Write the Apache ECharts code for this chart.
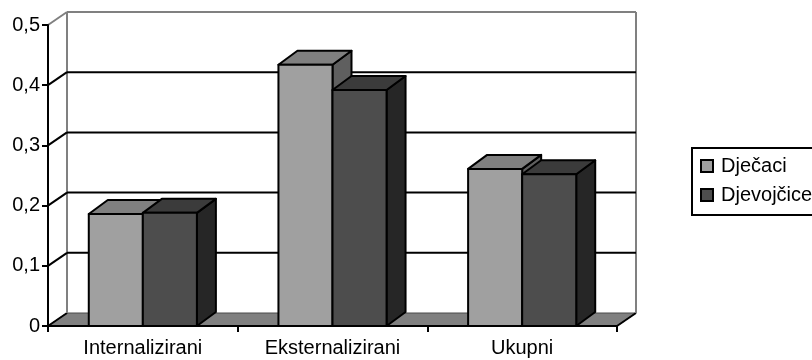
<!DOCTYPE html>
<html>
<head>
<meta charset="utf-8">
<script src="https://cdn.jsdelivr.net/npm/echarts@6/dist/echarts.min.js"></script>
<style>
html,body{margin:0;padding:0;background:#fff;}
#chart{width:812px;height:360px;}
</style>
</head>
<body>
<div id="chart"></div>
<script>
// ---- data ----
var categories = ['Internalizirani', 'Eksternalizirani', 'Ukupni'];
var seriesNames = ['Dječaci', 'Djevojčice'];
var djecaci = [0.186, 0.434, 0.261];
var djevojcice = [0.188, 0.392, 0.252];
var yTicks = [0, 0.1, 0.2, 0.3, 0.4, 0.5];
var yTickLabels = ['0', '0,1', '0,2', '0,3', '0,4', '0,5'];

// ---- style ----
var FONT = 'Liberation Sans, Arial, sans-serif';
var WALL_DX = 19, WALL_DY = -13;
var BAR_DX = 19, BAR_DY = -14;
var BAR_FRAC = 0.285;
var palettes = [
  {front: '#a0a0a0', top: '#808080', side: '#5f5f5f'},
  {front: '#4d4d4d', top: '#3b3b3b', side: '#262626'}
];

var chart = echarts.init(document.getElementById('chart'), null, {renderer: 'canvas'});

function wallRender(params, api) {
  var cs = params.coordSys;
  var v = api.value(1);
  var p = api.coord([0, v]);
  var y = p[1];
  var x0 = cs.x, x1 = cs.x + cs.width;
  var isTop = Math.abs(v - yTicks[yTicks.length - 1]) < 1e-9;
  var isZero = Math.abs(v) < 1e-9;
  var children = [];
  if (isZero) {
    // floor
    children.push({
      type: 'polygon',
      shape: {points: [[x0, y], [x1, y], [x1 + WALL_DX, y + WALL_DY], [x0 + WALL_DX, y + WALL_DY]]},
      style: {fill: '#808080', stroke: '#4a4a4a', lineWidth: 1}
    });
    children.push({
      type: 'line',
      shape: {x1: x1, y1: y, x2: x1 + WALL_DX, y2: y + WALL_DY},
      style: {stroke: '#000', lineWidth: 2}
    });
    children.push({
      type: 'line',
      shape: {x1: x0, y1: y, x2: x0 + WALL_DX, y2: y + WALL_DY},
      style: {stroke: '#000', lineWidth: 2}
    });
    // wall vertical edges
    var yt = api.coord([0, yTicks[yTicks.length - 1]])[1];
    children.push({
      type: 'line',
      shape: {x1: x0 + WALL_DX, y1: yt + WALL_DY, x2: x0 + WALL_DX, y2: y + WALL_DY},
      style: {stroke: '#808080', lineWidth: 2}
    });
    children.push({
      type: 'line',
      shape: {x1: x1 + WALL_DX, y1: yt + WALL_DY, x2: x1 + WALL_DX, y2: y + WALL_DY},
      style: {stroke: '#808080', lineWidth: 2}
    });
  } else {
    var col = isTop ? '#808080' : '#000';
    children.push({
      type: 'line',
      shape: {x1: x0 + WALL_DX, y1: y + WALL_DY, x2: x1 + WALL_DX, y2: y + WALL_DY},
      style: {stroke: col, lineWidth: 2}
    });
    children.push({
      type: 'line',
      shape: {x1: x0, y1: y, x2: x0 + WALL_DX, y2: y + WALL_DY},
      style: {stroke: col, lineWidth: 2}
    });
  }
  return {type: 'group', children: children};
}

function makeBarRender(sIdx) {
  var pal = palettes[sIdx];
  return function (params, api) {
    var i = api.value(0);
    var v = api.value(1);
    var top = api.coord([i, v]);
    var base = api.coord([i, 0]);
    var band = api.size([1, 0])[0];
    var w = band * BAR_FRAC;
    var xl = sIdx === 0 ? top[0] - w : top[0];
    var xr = xl + w;
    var yt = top[1], yb = base[1];
    var st = {lineWidth: 2, stroke: '#000', lineJoin: 'round'};
    return {
      type: 'group',
      children: [
        {type: 'polygon', shape: {points: [[xr, yt], [xr + BAR_DX, yt + BAR_DY], [xr + BAR_DX, yb + BAR_DY], [xr, yb]]},
          style: Object.assign({fill: pal.side}, st)},
        {type: 'polygon', shape: {points: [[xl, yt], [xl + BAR_DX, yt + BAR_DY], [xr + BAR_DX, yt + BAR_DY], [xr, yt]]},
          style: Object.assign({fill: pal.top}, st)},
        {type: 'rect', shape: {x: xl, y: yt, width: w, height: yb - yt},
          style: Object.assign({fill: pal.front}, st)}
      ]
    };
  };
}

var option = {
  animation: false,
  backgroundColor: '#fff',
  textStyle: {fontFamily: FONT},
  grid: {left: 48, right: 195, top: 25, bottom: 34, containLabel: false},
  legend: {
    orient: 'vertical',
    left: 692,
    top: 148,
    padding: [8, 8, 10, 8],
    itemGap: 9,
    itemWidth: 12,
    itemHeight: 12,
    borderColor: '#000',
    borderWidth: 2,
    icon: 'rect',
    textStyle: {fontFamily: FONT, fontSize: 20, color: '#000', lineHeight: 20, padding: [0, 0, 0, 3]},
    data: [
      {name: seriesNames[0], itemStyle: {color: palettes[0].front, borderColor: '#000', borderWidth: 2}},
      {name: seriesNames[1], itemStyle: {color: palettes[1].front, borderColor: '#000', borderWidth: 2}}
    ]
  },
  xAxis: {
    type: 'category',
    data: categories,
    z: 5,
    axisLine: {show: true, lineStyle: {color: '#000', width: 2}},
    axisTick: {show: true, length: 6, lineStyle: {color: '#000', width: 2}},
    axisLabel: {fontFamily: FONT, fontSize: 20, color: '#000', margin: 12},
    splitLine: {show: false}
  },
  yAxis: {
    type: 'value',
    min: 0,
    max: 0.5,
    interval: 0.1,
    z: 5,
    axisLine: {show: true, lineStyle: {color: '#000', width: 2}},
    axisTick: {show: true, length: 6, lineStyle: {color: '#000', width: 2}},
    axisLabel: {
      fontFamily: FONT, fontSize: 20, color: '#000', margin: 8,
      formatter: function (val) {
        for (var k = 0; k < yTicks.length; k++) {
          if (Math.abs(yTicks[k] - val) < 1e-9) return yTickLabels[k];
        }
        return '';
      }
    },
    splitLine: {show: false}
  },
  series: [
    {
      type: 'custom',
      name: '__wall',
      z: 1,
      silent: true,
      renderItem: wallRender,
      data: yTicks.map(function (v) { return [0, v]; })
    },
    {
      type: 'custom',
      name: seriesNames[0],
      z: 2,
      itemStyle: {color: palettes[0].front, borderColor: '#000', borderWidth: 2},
      renderItem: makeBarRender(0),
      data: djecaci.map(function (v, i) { return [i, v]; })
    },
    {
      type: 'custom',
      name: seriesNames[1],
      z: 2,
      itemStyle: {color: palettes[1].front, borderColor: '#000', borderWidth: 2},
      renderItem: makeBarRender(1),
      data: djevojcice.map(function (v, i) { return [i, v]; })
    }
  ]
};
chart.setOption(option);
</script>
</body>
</html>
